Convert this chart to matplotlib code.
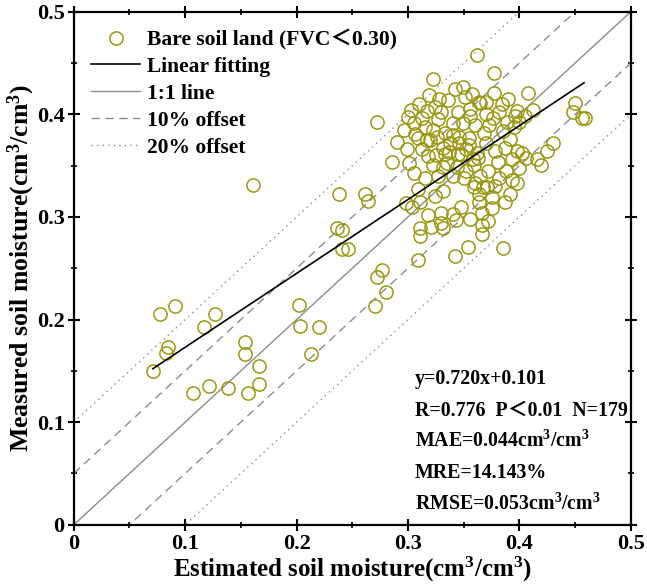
import numpy as np
import matplotlib
matplotlib.use('Agg')
import matplotlib.pyplot as plt

plt.rcParams['font.family'] = ['Liberation Serif', 'Noto Sans CJK SC']
plt.rcParams['font.weight'] = 'bold'
plt.rcParams['axes.labelweight'] = 'bold'
plt.rcParams['mathtext.fontset'] = 'custom'
plt.rcParams['mathtext.rm'] = 'Liberation Serif:bold'
plt.rcParams['mathtext.it'] = 'Liberation Serif:bold'
plt.rcParams['mathtext.bf'] = 'Liberation Serif:bold'

# estimated / measured soil moisture (cm3/cm3)
est = [
    0.071, 0.077, 0.083, 0.085, 0.091, 0.107, 0.117, 0.121, 0.127, 0.138,
    0.154, 0.154, 0.156, 0.161, 0.166, 0.166, 0.202, 0.203, 0.213, 0.220,
    0.236, 0.238, 0.241, 0.241, 0.246, 0.261, 0.264, 0.270, 0.272, 0.272,
    0.277, 0.280, 0.286, 0.290,
    0.362, 0.322, 0.349, 0.377, 0.319, 0.351, 0.303, 0.324, 0.300, 0.313,
    0.327, 0.345, 0.364, 0.360, 0.349, 0.309, 0.322, 0.333, 0.346, 0.355,
    0.299, 0.320, 0.318, 0.331, 0.337, 0.348, 0.358, 0.301, 0.322, 0.335,
    0.350, 0.360, 0.367, 0.309, 0.331, 0.364, 0.298, 0.311, 0.324, 0.304,
    0.330, 0.340, 0.343, 0.321, 0.311, 0.311, 0.330, 0.331, 0.356, 0.366,
    0.366, 0.366, 0.342, 0.354, 0.309, 0.364,
    0.450, 0.448, 0.456, 0.459, 0.408, 0.377, 0.412, 0.398, 0.382, 0.400,
    0.389, 0.373, 0.378, 0.387, 0.398, 0.406, 0.416, 0.419, 0.425, 0.381,
    0.393, 0.382, 0.393, 0.398, 0.392, 0.371, 0.375, 0.359, 0.375, 0.385,
    0.355, 0.346, 0.340, 0.344, 0.359, 0.331, 0.333, 0.345, 0.317, 0.317,
    0.365,
    0.305, 0.315, 0.326, 0.338, 0.352, 0.362, 0.370, 0.368, 0.376, 0.385,
    0.392, 0.356, 0.340, 0.330, 0.310, 0.336, 0.356, 0.370, 0.384, 0.395,
    0.396, 0.402, 0.400, 0.388, 0.372, 0.365, 0.352, 0.327, 0.315, 0.305,
    0.313, 0.325, 0.340, 0.378, 0.387, 0.363, 0.328, 0.342, 0.357, 0.370,
    0.390, 0.405, 0.430, 0.306, 0.296, 0.372, 0.348, 0.318,
]
meas = [
    0.150, 0.205, 0.167, 0.173, 0.213, 0.128, 0.193, 0.135, 0.205, 0.133,
    0.178, 0.166, 0.128, 0.331, 0.155, 0.137, 0.214, 0.194, 0.166, 0.193,
    0.289, 0.322, 0.287, 0.269, 0.269, 0.322, 0.316, 0.213, 0.241, 0.393,
    0.248, 0.227, 0.354, 0.373,
    0.458, 0.434, 0.427, 0.440, 0.419, 0.417, 0.404, 0.407, 0.397, 0.396,
    0.395, 0.402, 0.412, 0.390, 0.392, 0.377, 0.385, 0.382, 0.378, 0.377,
    0.366, 0.375, 0.359, 0.367, 0.363, 0.361, 0.356, 0.353, 0.351, 0.353,
    0.338, 0.333, 0.329, 0.327, 0.325, 0.322, 0.314, 0.315, 0.320, 0.310,
    0.304, 0.303, 0.297, 0.290, 0.289, 0.281, 0.294, 0.289, 0.298, 0.304,
    0.292, 0.283, 0.262, 0.271, 0.258, 0.315,
    0.411, 0.402, 0.396, 0.396, 0.421, 0.421, 0.404, 0.403, 0.402, 0.393,
    0.393, 0.390, 0.364, 0.367, 0.364, 0.357, 0.356, 0.351, 0.364, 0.354,
    0.356, 0.338, 0.336, 0.333, 0.322, 0.329, 0.319, 0.329, 0.309, 0.270,
    0.370, 0.372, 0.380, 0.349, 0.351, 0.349, 0.361, 0.361, 0.375, 0.403,
    0.411,
    0.392, 0.388, 0.378, 0.372, 0.366, 0.362, 0.372, 0.382, 0.396, 0.384,
    0.376, 0.398, 0.392, 0.402, 0.410, 0.414, 0.405, 0.400, 0.410, 0.388,
    0.398, 0.362, 0.348, 0.345, 0.345, 0.340, 0.345, 0.340, 0.338, 0.343,
    0.366, 0.360, 0.340, 0.330, 0.315, 0.357, 0.415, 0.425, 0.420, 0.412,
    0.415, 0.398, 0.372, 0.381, 0.385, 0.296, 0.310, 0.302,
]

slope, intercept = 0.720, 0.101
fit_x = [0.071, 0.458]
stats = ['y=0.720x+0.101',
         'R=0.776  P\uff1c0.01  N=179',
         'MAE=0.044cm$^3$/cm$^3$',
         'MRE=14.143%',
         'RMSE=0.053cm$^3$/cm$^3$']

fig = plt.figure(figsize=(6.47, 5.87), dpi=100)
ax = fig.add_axes([0.114, 0.106, 0.861, 0.874])

ax.plot(est, meas, 'o', ms=9.5, mfc='none', mec='#9a9810', mew=1.1,
        label='Bare soil land (FVC\uff1c0.30)', zorder=3)
fx = np.array(fit_x)
ax.plot(fx, slope * fx + intercept, color='black', lw=1.2, label='Linear fitting', zorder=4)
line = np.array([0, 0.5])
ax.plot(line, line, color='#8c8c8c', lw=1.0, label='1:1 line')
ax.plot(line, line + 0.05, color='#8c8c8c', lw=1.0, ls=(0, (6, 4)), label='10% offset')
ax.plot(line, line - 0.05, color='#8c8c8c', lw=1.0, ls=(0, (6, 4)))
ax.plot(line, line + 0.1, color='#8c8c8c', lw=1.0, ls=(0, (1, 3)), label='20% offset')
ax.plot(line, line - 0.1, color='#8c8c8c', lw=1.0, ls=(0, (1, 3)))

ax.set_xlim(0, 0.5)
ax.set_ylim(0, 0.5)
ax.set_xticks([0, 0.1, 0.2, 0.3, 0.4, 0.5])
ax.set_xticklabels(['0', '0.1', '0.2', '0.3', '0.4', '0.5'])
ax.set_yticks([0, 0.1, 0.2, 0.3, 0.4, 0.5])
ax.set_yticklabels(['0', '0.1', '0.2', '0.3', '0.4', '0.5'])
ax.set_xticks(np.arange(0.05, 0.5, 0.1), minor=True)
ax.set_yticks(np.arange(0.05, 0.5, 0.1), minor=True)
ax.tick_params(which='major', direction='inout', length=9, width=1.5,
               labelsize=16, top=True, right=True, pad=2)
ax.tick_params(which='minor', direction='inout', length=5, width=1.2,
               top=True, right=True)
for s in ax.spines.values():
    s.set_linewidth(1.6)

ax.set_xlabel('Estimated soil moisture(cm$^3$/cm$^3$)', fontsize=18, labelpad=1)
ax.set_ylabel('Measured soil moisture(cm$^3$/cm$^3$)', fontsize=18.5, labelpad=0)

ax.legend(loc='upper left', bbox_to_anchor=(0.0, 1.0), frameon=False,
          fontsize=15.5, handlelength=2.3, handletextpad=0.3, labelspacing=0.32,
          borderaxespad=0.4)

for i, t in enumerate(stats):
    ax.text(0.306, 0.142 - i * 0.0305, t, fontsize=14.3, va='center', ha='left')

fig.savefig('out.png', dpi=100)
